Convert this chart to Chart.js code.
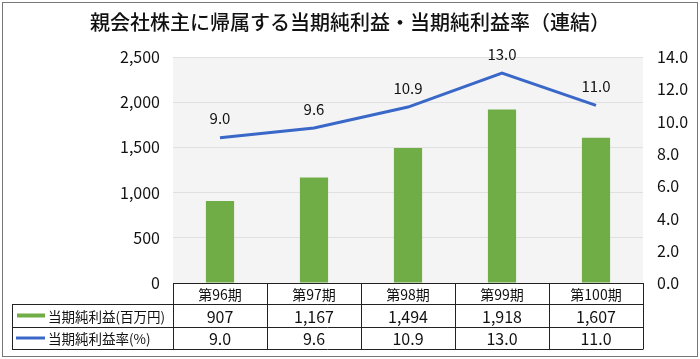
<!DOCTYPE html>
<html>
<head>
<meta charset="utf-8">
<script src="https://cdn.jsdelivr.net/npm/chart.js@4"></script>
<style>
html,body{margin:0;padding:0;background:#fff;}
#wrap{position:relative;width:700px;height:359px;}
</style>
</head>
<body>
<div id="wrap"><canvas id="myChart" width="700" height="359"></canvas></div>
<script>
var periods = ['第96期', '第97期', '第98期', '第99期', '第100期'];
var netIncome = [907, 1167, 1494, 1918, 1607];
var netIncomeRate = [9.0, 9.6, 10.9, 13.0, 11.0];
var incomeLabel = '当期純利益(百万円)';
var rateLabel = '当期純利益率(%)';

var FONT = "'Noto Sans CJK JP', 'Noto Sans', sans-serif";
var GREEN = '#70ad47';
var BLUE = '#3a68c8';

// gray background behind the plot
var plotBg = {
    id: 'plotBg',
    beforeDraw: function (chart) {
        var a = chart.chartArea, ctx = chart.ctx;
        ctx.save();
        ctx.fillStyle = '#f4f4f4';
        ctx.fillRect(a.left, a.top, a.right - a.left, a.bottom - a.top);
        ctx.restore();
    }
};

// value labels above the line points
var lineLabels = {
    id: 'lineLabels',
    afterDatasetsDraw: function (chart) {
        var ctx = chart.ctx;
        var meta = chart.getDatasetMeta(1);
        ctx.save();
        ctx.font = '15px ' + FONT;
        ctx.fillStyle = '#111';
        ctx.textAlign = 'center';
        ctx.textBaseline = 'middle';
        meta.data.forEach(function (pt, i) {
            ctx.fillText(netIncomeRate[i].toFixed(1), pt.x, pt.y - 19);
        });
        ctx.restore();
    }
};

// data table under the chart + outer frame
var dataTable = {
    id: 'dataTable',
    afterDraw: function (chart) {
        var ctx = chart.ctx, a = chart.chartArea;
        var xs = chart.scales.x;
        var left = 12, top = a.bottom;
        var rows = [top, 304, 327, 349];
        var n = periods.length;
        var colW = (a.right - a.left) / n;
        ctx.save();
        ctx.strokeStyle = '#222';
        ctx.lineWidth = 1;
        ctx.beginPath();
        // header row
        ctx.moveTo(a.left, rows[0] + 0.5); ctx.lineTo(a.right, rows[0] + 0.5);
        for (var r = 1; r < rows.length; r++) {
            ctx.moveTo(left, rows[r] + 0.5); ctx.lineTo(a.right, rows[r] + 0.5);
        }
        for (var c = 0; c <= n; c++) {
            var x = Math.round(a.left + c * colW) + 0.5;
            ctx.moveTo(x, rows[0]); ctx.lineTo(x, rows[3] + 0.5);
        }
        ctx.moveTo(left + 0.5, rows[1]); ctx.lineTo(left + 0.5, rows[3] + 0.5);
        ctx.stroke();

        ctx.fillStyle = '#111';
        ctx.textAlign = 'center';
        ctx.textBaseline = 'middle';
        for (var i = 0; i < n; i++) {
            var cx = xs.getPixelForValue(i);
            ctx.font = '14px ' + FONT;
            ctx.fillText(periods[i], cx, (rows[0] + rows[1]) / 2 + 1);
            ctx.font = '16px ' + FONT;
            ctx.fillText(netIncome[i].toLocaleString('en-US'), cx, (rows[1] + rows[2]) / 2 + 1);
            ctx.fillText(netIncomeRate[i].toFixed(1), cx, (rows[2] + rows[3]) / 2 + 1);
        }
        // row headers with swatches
        ctx.textAlign = 'left';
        ctx.font = '13.5px ' + FONT;
        ctx.fillStyle = GREEN;
        ctx.fillRect(17, (rows[1] + rows[2]) / 2 - 2, 28, 4);
        ctx.fillStyle = '#111';
        ctx.fillText(incomeLabel, 48, (rows[1] + rows[2]) / 2 + 1);
        ctx.strokeStyle = BLUE;
        ctx.lineWidth = 3;
        ctx.beginPath();
        ctx.moveTo(16, (rows[2] + rows[3]) / 2);
        ctx.lineTo(45, (rows[2] + rows[3]) / 2);
        ctx.stroke();
        ctx.fillText(rateLabel, 48, (rows[2] + rows[3]) / 2 + 1);

        // outer frame
        ctx.strokeStyle = '#777';
        ctx.lineWidth = 1;
        ctx.strokeRect(2.5, 2.5, 695, 354);
        ctx.restore();
    }
};

var ctx = document.getElementById('myChart').getContext('2d');
var myChart = new Chart(ctx, {
    type: 'bar',
    data: {
        labels: periods,
        datasets: [{
            type: 'bar',
            label: incomeLabel,
            data: netIncome,
            backgroundColor: GREEN,
            borderWidth: 0,
            barPercentage: 0.3,
            categoryPercentage: 1,
            yAxisID: 'y',
            order: 2
        }, {
            type: 'line',
            label: rateLabel,
            data: netIncomeRate,
            borderColor: BLUE,
            borderWidth: 3,
            pointRadius: 0,
            tension: 0,
            yAxisID: 'y1',
            order: 1
        }]
    },
    options: {
        responsive: false,
        animation: false,
        layout: {
            padding: { left: 0, right: 0, top: 0, bottom: 76 }
        },
        plugins: {
            legend: { display: false },
            tooltip: { enabled: false },
            title: {
                display: true,
                text: '親会社株主に帰属する当期純利益・当期純利益率（連結）',
                color: '#111',
                font: { family: FONT, size: 20, weight: '500' },
                padding: { top: 10, bottom: 23 }
            }
        },
        scales: {
            x: {
                display: false
            },
            y: {
                position: 'left',
                min: 0,
                max: 2500,
                ticks: {
                    stepSize: 500,
                    padding: 13,
                    color: '#111',
                    font: { family: FONT, size: 16 },
                    callback: function (v) { return v.toLocaleString('en-US'); }
                },
                grid: { color: '#e0e0e0', drawTicks: false },
                border: { display: false },
                afterFit: function (s) { s.width = 173; }
            },
            y1: {
                position: 'right',
                min: 0,
                max: 14,
                ticks: {
                    stepSize: 2,
                    padding: 14,
                    color: '#111',
                    font: { family: FONT, size: 16 },
                    callback: function (v) { return v.toFixed(1); }
                },
                grid: { display: false, drawTicks: false },
                border: { display: false },
                afterFit: function (s) { s.width = 57; }
            }
        }
    },
    plugins: [plotBg, lineLabels, dataTable]
});
</script>
</body>
</html>
